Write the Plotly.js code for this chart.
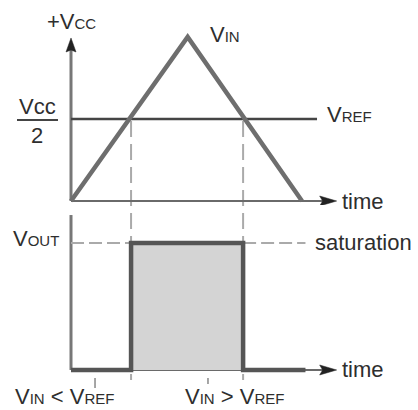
<!DOCTYPE html>
<html>
<head>
<meta charset="utf-8">
<script src="https://cdn.plot.ly/plotly-3.0.1.min.js"></script>
<style>html,body{margin:0;padding:0;background:#fff;}#chart{width:418px;height:410px;}</style>
</head>
<body>
<div id="chart"></div>
<script>
// ---- data ----
const timePts   = [0, 1.01, 2.0];          // triangle input, time units
const vinPts    = [0, 1, 0];               // V_IN, fraction of Vcc
const vrefLevel = 0.5;                     // V_REF = Vcc/2
const vrefEnd   = 2.13;                    // end of V_REF line
const crossTimes = [0.52, 1.49];           // V_IN crosses V_REF
const outTime   = [0, 0.52, 0.52, 1.49, 1.49, 2.03];
const outLevel  = [0, 0, 1, 1, 0, 0];      // V_OUT, fraction of saturation
const timeAxisEnd = 2.30;
const topAxisTop = 0.994;
const botAxisTop = 1.22;
const SC = '<span style="font-size:15px">';
const textLabels = {
  vcc: '+V' + SC + 'CC</span>',
  vin: 'V' + SC + 'IN</span>',
  vref: 'V' + SC + 'REF</span>',
  vout: 'V' + SC + 'OUT</span>',
  time: 'time',
  sat: 'saturation',
  lt: 'V' + SC + 'IN</span> &lt; V' + SC + 'REF</span>',
  gt: 'V' + SC + 'IN</span> &gt; V' + SC + 'REF</span>'
};

// ---- scales ----
const W = 418, H = 410;
const xRange = [-0.6147, 3.0043];
const yTopRange = [-0.0244, 1.2256];
const yBotRange = [-0.315, 1.299];
const pxT = (xRange[1]-xRange[0]) / W;            // time units per px
const pxVt = (yTopRange[1]-yTopRange[0]) / (H/2);  // top v per px
const pxVb = (yBotRange[1]-yBotRange[0]) / (H/2);  // bottom v per px

const font = 'Liberation Sans, Arial, sans-serif';
const txt = '#2e2e2e';

const traces = [];
// fill of output pulse
traces.push({
  x: outTime.slice(1,5), y: outLevel.slice(1,5), xaxis:'x', yaxis:'y2',
  type:'scatter', mode:'lines', fill:'toself', fillcolor:'#d4d4d4',
  line:{width:0}, hoverinfo:'skip'
});
// dashed saturation guides
traces.push({
  x:[outTime[0], outTime[1]], y:[1,1], xaxis:'x', yaxis:'y2', mode:'lines',
  line:{color:'#aaa', width:2, dash:'13px,5px'}, hoverinfo:'skip'
});
traces.push({
  x:[outTime[4], outTime[5]], y:[1,1], xaxis:'x', yaxis:'y2', mode:'lines',
  line:{color:'#aaa', width:2, dash:'13px,5px'}, hoverinfo:'skip'
});
// V_REF line
traces.push({
  x:[0, vrefEnd], y:[vrefLevel, vrefLevel], xaxis:'x', yaxis:'y', mode:'lines',
  line:{color:'#454545', width:2.5}, hoverinfo:'skip'
});
// triangle V_IN
traces.push({
  x: timePts, y: vinPts, xaxis:'x', yaxis:'y', mode:'lines',
  line:{color:'#6e6e6e', width:4.5}, hoverinfo:'skip'
});
// output pulse
traces.push({
  x: outTime, y: outLevel, xaxis:'x', yaxis:'y2', mode:'lines',
  line:{color:'#555', width:4.5}, hoverinfo:'skip'
});

const shapes = [];
// dashed vertical guides through both panels
crossTimes.forEach(t => {
  shapes.push({type:'line', xref:'x', yref:'paper', x0:t, x1:t,
    y0: 1 - 121/H, y1: 1 - 380/H, layer:'below',
    line:{color:'#aaa', width:2, dash:'16px,7px'}});
});
// top axes
shapes.push({type:'line', xref:'x', yref:'y', x0:0, x1:0, y0:0, y1:topAxisTop - 10*pxVt,
  line:{color:'#777', width:3}, layer:'below'});
shapes.push({type:'line', xref:'x', yref:'y', x0:0, x1:timeAxisEnd - 10*pxT, y0:0, y1:0,
  line:{color:'#6a6a6a', width:2}, layer:'below'});
// bottom axes
shapes.push({type:'line', xref:'x', yref:'y2', x0:0, x1:0, y0:0, y1:botAxisTop,
  line:{color:'#777', width:3}, layer:'below'});
shapes.push({type:'line', xref:'x', yref:'y2', x0:0, x1:timeAxisEnd - 10*pxT, y0:0, y1:0,
  line:{color:'#6a6a6a', width:2}, layer:'below'});
// arrowheads
function arrowRight(tip, yref, pv) {
  const b = tip - 17*pxT, h = 5*pv;
  return {type:'path', xref:'x', yref:yref,
    path:`M ${tip},0 L ${b},${h} L ${b+3*pxT},0 L ${b},${-h} Z`,
    fillcolor:'#222', line:{color:'#222', width:0.5}};
}
shapes.push(arrowRight(timeAxisEnd, 'y', pxVt));
shapes.push(arrowRight(timeAxisEnd, 'y2', pxVb));
{
  const tip = topAxisTop, b = tip - 14*pxVt, w = 5*pxT;
  shapes.push({type:'path', xref:'x', yref:'y',
    path:`M 0,${tip} L ${w},${b} L 0,${b+2*pxVt} L ${-w},${b} Z`,
    fillcolor:'#222', line:{color:'#222', width:0.5}});
}
// fraction bar of Vcc/2
shapes.push({type:'line', xref:'x', yref:'y', x0:-0.4675, x1:-0.1126, y0:0.494, y1:0.494,
  line:{color:'#444', width:2}});
// small tick marks below the bottom axis
shapes.push({type:'line', xref:'x', yref:'y2', x0:0.208, x1:0.208, y0:-0.063, y1:-0.142,
  line:{color:'#888', width:1.5}});
shapes.push({type:'line', xref:'x', yref:'y2', x0:1.186, x1:1.186, y0:-0.063, y1:-0.11,
  line:{color:'#888', width:1.5}});

function ann(text, x, y, yref, size, xanchor) {
  return {text, x, y, xref:'x', yref, showarrow:false, xanchor: xanchor||'center',
    yanchor:'middle', font:{family:font, size:size||22, color:txt}};
}
const annotations = [
  ann(textLabels.vcc, 0.004, 1.095, 'y'),
  ann('Vcc', -0.29, 0.575, 'y'),
  ann('2', -0.294, 0.40, 'y'),
  ann(textLabels.vin, 1.329, 1.015, 'y'),
  ann(textLabels.vref, 2.407, 0.525, 'y'),
  ann(textLabels.time, 2.528, 0.0, 'y'),
  ann(textLabels.vout, -0.299, 1.035, 'y2'),
  ann(textLabels.sat, 2.532, 1.0, 'y2'),
  ann(textLabels.time, 2.528, 0.0, 'y2'),
  ann(textLabels.lt, -0.052, -0.205, 'y2'),
  ann(textLabels.gt, 1.416, -0.205, 'y2')
];

const layout = {
  width: W, height: H, margin:{l:0,r:0,t:0,b:0},
  paper_bgcolor:'#fff', plot_bgcolor:'rgba(0,0,0,0)', showlegend:false,
  xaxis:{range:xRange, visible:false, fixedrange:true},
  yaxis:{range:yTopRange, domain:[0.5,1], visible:false, fixedrange:true, anchor:'x'},
  yaxis2:{range:yBotRange, domain:[0,0.5], visible:false, fixedrange:true, anchor:'x'},
  shapes, annotations
};
Plotly.newPlot('chart', traces, layout, {staticPlot:true, displayModeBar:false});
</script>
</body>
</html>
